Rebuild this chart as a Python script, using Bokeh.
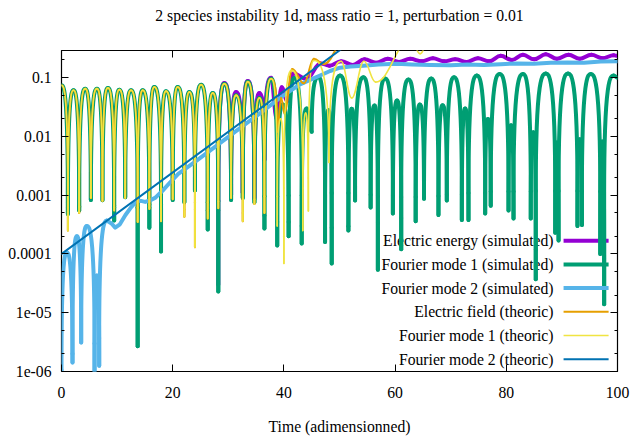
import math
from bokeh.plotting import figure
from bokeh.models import (Range1d, FixedTicker, LinearAxis, LogAxis,
                          CustomJSTickFormatter, ColumnDataSource)
from bokeh.core.properties import value
from bokeh.embed import file_html
from bokeh.resources import INLINE

# ---------------- texts / ticks ----------------
TITLE = "2 species instability 1d, mass ratio = 1, perturbation = 0.01"
X_LABEL = "Time (adimensionned)"
x_ticks = [0, 20, 40, 60, 80, 100]
y_ticks = [1e-6, 1e-5, 1e-4, 1e-3, 1e-2, 1e-1]
y_tick_labels = ["1e-06", "1e-05", "0.0001", "0.001", "0.01", "0.1"]
y_minor_ticks = [2e-6, 5e-6, 2e-5, 5e-5, 2e-4, 5e-4, 2e-3, 5e-3, 2e-2, 5e-2, 0.2]
X_MIN, X_MAX = 0.0, 100.0
Y_MIN, Y_MAX = 1e-6, 0.29

series_labels = ["Electric energy (simulated)", "Fourier mode 1 (simulated)",
                 "Fourier mode 2 (simulated)", "Electric field (theoric)",
                 "Fourier mode 1 (theoric)", "Fourier mode 2 (theoric)"]
series_colors = ["#9400d3", "#009e73", "#56b4e9", "#e69f00", "#f0e442", "#0072b2"]
series_widths = [4.0, 4.0, 4.0, 2.0, 1.6, 2.0]

# ---------------- data ----------------
# Fourier mode 1 (simulated): local maxima and minima of |mode 1|
green_peak_t = [0.0, 2.16, 4.26, 6.37, 8.35, 10.4, 12.5, 14.6, 16.7, 18.8, 20.9, 23.0,
                25.1, 27.2, 29.3, 31.4, 33.5, 35.6, 37.7, 39.8, 41.9, 44.1, 46.2, 48.0,
                50.1, 52.2, 54.3, 56.3, 58.2, 60.35, 62.4, 64.45, 66.5, 68.55, 70.6,
                72.6, 74.7, 76.7, 78.8, 80.85, 83.0, 84.85, 87.1, 89.1, 91.1, 93.2,
                95.2, 97.25, 99.3]
green_peak_v = [0.074, 0.061, 0.065, 0.065, 0.067, 0.0625, 0.061, 0.061, 0.0695, 0.059,
                0.0695, 0.057, 0.076, 0.055, 0.079, 0.050, 0.085, 0.045, 0.096, 0.035,
                0.099, 0.030, 0.102, 0.028, 0.109, 0.0295, 0.102, 0.0336, 0.097, 0.041,
                0.0935, 0.035, 0.097, 0.034, 0.102, 0.030, 0.109, 0.0199, 0.116, 0.0155,
                0.116, 0.0118, 0.118, 0.0079, 0.118, 0.009, 0.116, 0.0082, 0.109]
green_dip_t = [1.15, 3.18, 5.28, 7.37, 9.47, 11.46, 13.7, 15.8, 17.9, 20.0, 22.1, 24.0,
               26.3, 28.2, 30.5, 32.6, 34.7, 36.5, 38.8, 40.85, 43.2, 45.0, 47.4, 48.6,
               51.6, 52.8, 55.6, 56.9, 59.6, 61.1, 63.7, 65.2, 67.8, 69.3, 72.0, 73.2,
               76.2, 77.2, 80.4, 81.3, 84.4, 85.3, 88.8, 89.4, 92.8, 93.6, 96.9, 97.6,
               100.0]
green_dip_v = [4.8e-4, 5.5e-4, 8.3e-4, 8.2e-4, 3.7e-4, 9.2e-4, 2.7e-6, 2.8e-4, 1.1e-4,
               8.3e-4, 7.6e-4, 1.2e-3, 2.6e-4, 2.3e-5, 8.3e-4, 9.0e-4, 7.6e-4, 2.7e-4,
               1.4e-4, 2.0e-4, 1.5e-4, 1.2e-2, 1.6e-4, 6.9e-5, 2.5e-4, 8.1e-4, 6.2e-4,
               5.4e-5, 4.9e-4, 1.2e-4, 3.6e-4, 8.7e-4, 4.6e-4, 8.1e-4, 3.8e-4, 3.8e-4,
               4.9e-4, 6.6e-4, 5.5e-4, 4.0e-4, 4.0e-4, 3.7e-5, 2.3e-4, 1.7e-4, 3.0e-4,
               3.1e-4, 1.0e-4, 1.4e-5, 0.1]

# Fourier mode 1 (theoric)
yellow_peak_t = green_peak_t[:19] + [39.4, 41.4, 43.9, 45.4, 50.3, 54.4, 62.8, 67.0]
yellow_peak_v = green_peak_v[:19] + [0.02, 0.133, 0.025, 0.196, 0.19, 0.19, 0.45, 1.0]
yellow_dip_t = green_dip_t[:18] + [38.8, 40.0, 43.4, 44.4, 48.1, 52.2, 56.5, 64.5]
yellow_dip_v = [2.5e-4, 5.0e-4, 9.0e-4, 8.0e-4, 5.5e-4, 9.0e-4, 3.5e-4, 5.8e-4, 3.6e-4,
                8.5e-4, 4.3e-4, 1.3e-4, 4.0e-4, 6.0e-4, 9.0e-4, 3.6e-4, 7.1e-4, 5.0e-4,
                3.0e-4, 6.9e-5, 2.5e-4, 5.4e-4, 3.6e-3, 0.045, 0.084, 0.255]

# Electric field (theoric)
orange_peak_t = yellow_peak_t[:19] + [39.5, 41.5, 45.4, 51.0]
orange_peak_v = yellow_peak_v[:19] + [0.045, 0.14, 0.21, 0.45]
orange_dip_t = yellow_dip_t[:18] + [38.8, 40.1, 43.6, 47.2]
orange_dip_v = yellow_dip_v[:18] + [0.012, 0.025, 0.08, 0.17]

# Electric energy (simulated) (below 28 it lies under mode 1)
purple_peak_t = [29.3, 31.4, 33.5, 35.6, 37.7, 39.6, 41.7, 46.6, 50.3, 54.5, 58.7, 62.7,
                 66.8, 70.8, 74.9, 79.0, 83.0, 87.1, 91.2, 95.3, 99.3]
purple_peak_v = [0.081, 0.057, 0.088, 0.055, 0.100, 0.069, 0.118, 0.175, 0.19, 0.205,
                 0.21, 0.21, 0.215, 0.205, 0.215, 0.235, 0.245, 0.25, 0.245, 0.245, 0.24]
purple_dip_t = [28.2, 30.5, 32.6, 34.7, 36.5, 38.7, 40.6, 44.0, 48.2, 52.4, 56.6, 60.7,
                64.8, 68.8, 72.9, 76.9, 81.0, 85.0, 89.1, 93.2, 97.3, 100.0]
purple_dip_v = [3.0e-5, 1.0e-3, 1.1e-3, 9.0e-4, 4.0e-3, 0.02, 0.04, 0.095, 0.16, 0.165,
                0.18, 0.185, 0.19, 0.19, 0.185, 0.19, 0.2, 0.205, 0.21, 0.21, 0.215, 0.235]

# Fourier mode 2 (simulated): first arches, then a smooth rise
lblue_arch_t = [0.0, 0.97, 1.98, 2.77, 3.54, 4.56, 5.94, 6.36, 6.78, 8.16]
lblue_arch_v = [5e-7, 1.06e-4, 1.42e-6, 2.0e-4, 3.1e-6, 3.0e-4, 5e-7, 4.3e-5, 1.25e-6, 3.7e-4]
lblue_t = [8.16, 9.0, 9.66, 10.5, 11.5, 12.5, 13.56, 14.3, 15.05, 16.0, 16.9, 18.2, 19.55,
           21.0, 24.0, 27.0, 30.0, 33.0, 36.0, 39.0, 40.8, 42.9, 44.5, 46.5, 48.3, 50.1,
           52.0, 54.3, 57.0, 60.3, 63.0, 66.3, 70.0, 73.0, 76.0, 79.0, 82.0, 85.0, 88.0,
           91.0, 94.0, 97.0, 100.0]
lblue_v = [3.7e-4, 3.3e-4, 2.8e-4, 3.2e-4, 4.6e-4, 6.2e-4, 8.1e-4, 8.0e-4, 7.7e-4, 8.2e-4,
           9.1e-4, 1.2e-3, 1.66e-3, 2.3e-3, 3.7e-3, 6.0e-3, 9.8e-3, 0.016, 0.026, 0.043,
           0.057, 0.077, 0.09, 0.109, 0.13, 0.148, 0.155, 0.16, 0.168, 0.172, 0.168, 0.165,
           0.163, 0.168, 0.165, 0.17, 0.175, 0.172, 0.18, 0.182, 0.18, 0.188, 0.19]

# Fourier mode 2 (theoric): straight line in log scale
dblue_t = [0.0, 52.0]
dblue_v = [1.0e-4, 0.40]

# ---------------- layout / style constants ----------------
FONT = "Liberation Serif"
FS = "15.7px"
LEG_TEXT_X = 0.885
LEG_SAMPLE_X0 = 0.903
LEG_SAMPLE_X1 = 0.984
LEG_ROW0 = 0.4075
LEG_ROW_STEP = 0.0738
SHARP_DECADES = 0.8


def fx(f):
    return X_MIN + f * (X_MAX - X_MIN)


def fy(f):
    lo, hi = math.log10(Y_MIN), math.log10(Y_MAX)
    return 10 ** (lo + f * (hi - lo))


def arch_sources(ts, vs):
    """Curve pieces through successive extrema (bezier in screen space)."""
    nodes = sorted(zip(ts, vs))
    bz = dict(x0=[], y0=[], x1=[], y1=[], cx0=[], cy0=[], cx1=[], cy1=[])
    sg = dict(x0=[], y0=[], x1=[], y1=[])

    def add_bz(a, b, c0, c1):
        bz["x0"].append(a[0]); bz["y0"].append(a[1])
        bz["x1"].append(b[0]); bz["y1"].append(b[1])
        bz["cx0"].append(c0[0]); bz["cy0"].append(c0[1])
        bz["cx1"].append(c1[0]); bz["cy1"].append(c1[1])

    for (ta, va), (tb, vb) in zip(nodes[:-1], nodes[1:]):
        h = tb - ta
        depth = math.log10(max(va, vb) / min(va, vb))
        if depth < SHARP_DECADES:
            add_bz((ta, va), (tb, vb), (ta + 0.4 * h, va), (tb - 0.4 * h, vb))
            continue
        if va < vb:
            lt, lv, ht, hv = ta, va, tb, vb
        else:
            lt, lv, ht, hv = tb, vb, ta, va
        d = 1.0 if ht > lt else -1.0
        base = lv
        if depth > 2.0:
            knee = hv / 100.0
            sg["x0"].append(lt); sg["y0"].append(lv)
            sg["x1"].append(lt); sg["y1"].append(knee)
            base = knee
        add_bz((lt, base), (ht, hv), (lt, hv), (lt + d * 0.7 * h, hv))
    return ColumnDataSource(bz), ColumnDataSource(sg)


p = figure(width=631, height=443,
           x_range=Range1d(X_MIN, X_MAX), y_range=Range1d(Y_MIN, Y_MAX),
           y_axis_type="log", output_backend="svg", toolbar_location=None,
           min_border_left=61, min_border_right=14, min_border_top=50,
           min_border_bottom=72)
p.title.visible = False
p.background_fill_color = "white"
p.border_fill_color = "white"
p.outline_line_color = "black"
p.outline_line_width = 1.2
p.grid.visible = False

p.add_layout(LinearAxis(), "above")
p.add_layout(LogAxis(), "right")

y_fmt = CustomJSTickFormatter(args=dict(vals=y_ticks, labs=y_tick_labels), code="""
for (let i = 0; i < vals.length; i++) {
  if (Math.abs(Math.log10(tick) - Math.log10(vals[i])) < 1e-6) { return labs[i]; }
}
return "";
""")
empty_fmt = CustomJSTickFormatter(code="return '';")

for ax in p.xaxis + p.yaxis:
    ax.axis_line_color = None
    ax.major_tick_in = 7
    ax.major_tick_out = 0
    ax.major_tick_line_color = "black"
    ax.major_tick_line_width = 1
    ax.minor_tick_out = 0
    ax.major_label_text_font = FONT
    ax.major_label_text_font_size = FS
    ax.major_label_text_color = "black"
    ax.axis_label_text_font = FONT
    ax.axis_label_text_font_size = FS
    ax.axis_label_text_font_style = "normal"
    ax.axis_label_text_color = "black"

for ax in p.xaxis:
    ax.ticker = FixedTicker(ticks=x_ticks, minor_ticks=[])
    ax.minor_tick_line_color = None
for ax in p.yaxis:
    ax.ticker = FixedTicker(ticks=y_ticks, minor_ticks=y_minor_ticks)
    ax.minor_tick_in = 3
    ax.minor_tick_line_color = "black"

bottom = p.below[0]
bottom.major_label_standoff = 15
bottom.axis_label = X_LABEL
bottom.axis_label_standoff = 17

left = p.left[0]
left.formatter = y_fmt
left.major_label_standoff = 10

top = p.above[-1]
right = p.right[-1]
for ax in (top, right):
    ax.formatter = empty_fmt
    ax.major_label_text_font_size = "0px"
    ax.major_label_standoff = 0

# the plot title sits above the frame as the label of the mirrored top axis
top.axis_label = TITLE
top.axis_label_standoff = 27

# ---------------- drawing (gnuplot order: key entry, then curve) ----------------
curves = [
    [("arch", purple_peak_t + purple_dip_t, purple_peak_v + purple_dip_v)],
    [("arch", green_peak_t + green_dip_t, green_peak_v + green_dip_v)],
    [("arch", lblue_arch_t, lblue_arch_v), ("line", lblue_t, lblue_v)],
    [("arch", orange_peak_t + orange_dip_t, orange_peak_v + orange_dip_v)],
    [("arch", yellow_peak_t + yellow_dip_t, yellow_peak_v + yellow_dip_v)],
    [("line", dblue_t, dblue_v)],
]

for i, (label, color, width, parts) in enumerate(zip(series_labels, series_colors,
                                                     series_widths, curves)):
    row_y = fy(LEG_ROW0 - i * LEG_ROW_STEP)
    p.text(x=[fx(LEG_TEXT_X)], y=[row_y], text=[label],
           text_font=value(FONT), text_font_size=value(FS), text_color="black",
           text_align="right", text_baseline="middle")
    p.segment(x0=[fx(LEG_SAMPLE_X0)], y0=[row_y], x1=[fx(LEG_SAMPLE_X1)], y1=[row_y],
              line_color=color, line_width=width)
    for kind, ts, vs in parts:
        if kind == "line":
            p.line(ts, vs, line_color=color, line_width=width,
                   line_join="round", line_cap="round")
        else:
            bz, sg = arch_sources(ts, vs)
            if len(sg.data["x0"]):
                p.segment(x0="x0", y0="y0", x1="x1", y1="y1", source=sg,
                          line_color=color, line_width=width, line_cap="round")
            p.bezier(x0="x0", y0="y0", x1="x1", y1="y1", cx0="cx0", cy0="cy0",
                     cx1="cx1", cy1="cy1", source=bz, line_color=color,
                     line_width=width, line_cap="round")

open("out.html", "w").write(file_html(p, INLINE))
